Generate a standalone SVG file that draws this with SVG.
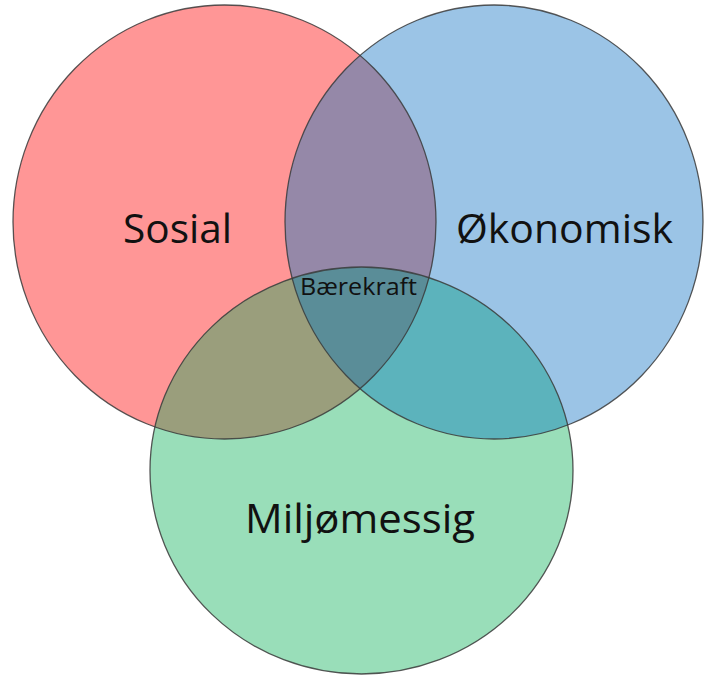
<svg xmlns="http://www.w3.org/2000/svg" width="706" height="678" viewBox="0 0 706 678">
  <style>
    .outline { fill: none; stroke: #3a3a3a; stroke-width: 1.3; stroke-opacity: 0.85; }
    .big { font-family: "Open Sans", Lato, "Liberation Sans", sans-serif; font-size: 40px; fill: #111; text-anchor: middle; }
    .small { font-family: "Open Sans", Lato, "Liberation Sans", sans-serif; font-size: 24px; fill: #111; text-anchor: middle; }
  </style>
  <defs>
    <clipPath id="clipRed"><ellipse cx="224.5" cy="222" rx="211.5" ry="217"/></clipPath>
    <clipPath id="clipBlue"><ellipse cx="494" cy="222" rx="209" ry="217"/></clipPath>
    <clipPath id="clipGreen"><ellipse cx="361.5" cy="470.5" rx="211.5" ry="203.5"/></clipPath>
  </defs>
  <rect width="706" height="678" fill="#ffffff"/>
  <g id="sosial">
    <ellipse cx="224.5" cy="222" rx="211.5" ry="217" fill="#ff9696"/>
  </g>
  <g id="okonomisk">
    <ellipse cx="494" cy="222" rx="209" ry="217" fill="#9bc4e6"/>
  </g>
  <g id="miljomessig">
    <ellipse cx="361.5" cy="470.5" rx="211.5" ry="203.5" fill="#99deb9"/>
  </g>
  <g id="overlaps">
    <g clip-path="url(#clipRed)">
      <ellipse cx="494" cy="222" rx="209" ry="217" fill="#9588a8"/>
      <ellipse cx="361.5" cy="470.5" rx="211.5" ry="203.5" fill="#9a9e7c"/>
    </g>
    <g clip-path="url(#clipBlue)">
      <ellipse cx="361.5" cy="470.5" rx="211.5" ry="203.5" fill="#5cb3bc"/>
    </g>
    <g clip-path="url(#clipRed)">
      <g clip-path="url(#clipBlue)">
        <ellipse cx="361.5" cy="470.5" rx="211.5" ry="203.5" fill="#5a8d98"/>
      </g>
    </g>
  </g>
  <g id="outlines">
    <ellipse class="outline" cx="224.5" cy="222" rx="211.5" ry="217"/>
    <ellipse class="outline" cx="494" cy="222" rx="209" ry="217"/>
    <ellipse class="outline" cx="361.5" cy="470.5" rx="211.5" ry="203.5"/>
  </g>
  <g id="labels">
    <text class="big" x="177.5" y="243" textLength="109" lengthAdjust="spacingAndGlyphs">Sosial</text>
    <text class="big" x="564.5" y="243" textLength="217" lengthAdjust="spacingAndGlyphs">Økonomisk</text>
    <text class="big" x="360" y="533" textLength="230" lengthAdjust="spacingAndGlyphs">Miljømessig</text>
    <text id="baerekraft" class="small" x="358.5" y="295" textLength="117" lengthAdjust="spacingAndGlyphs">Bærekraft</text>
  </g>
</svg>
